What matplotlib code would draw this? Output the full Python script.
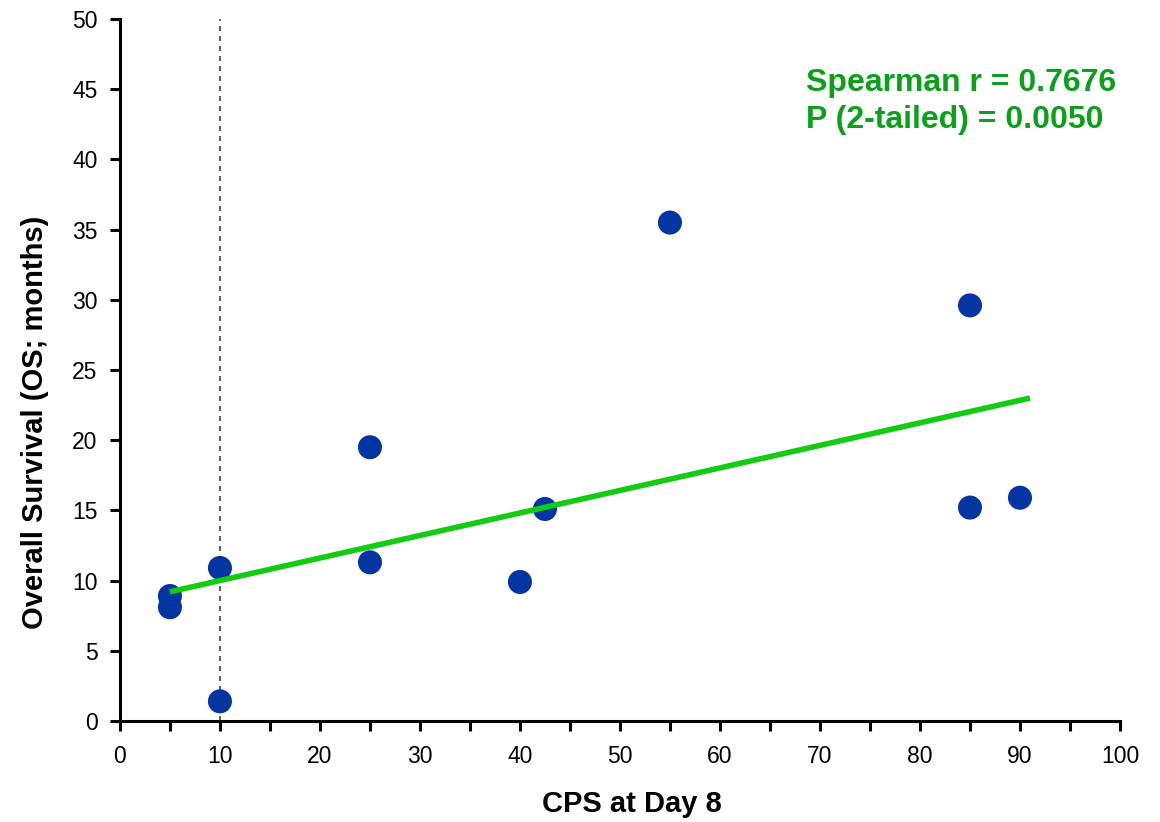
import matplotlib.pyplot as plt
import numpy as np

plt.rcParams['font.family'] = ['Liberation Sans', 'DejaVu Sans']

# CPS at Day 8 vs overall survival
cps = [5, 5, 10, 10, 25, 25, 40, 42.5, 55, 85, 85, 90]
os_months = [8.9, 8.1, 10.9, 1.4, 19.5, 11.3, 9.9, 15.1, 35.5, 29.6, 15.2, 15.9]

# trend line end points
fit_x = [5, 91]
fit_y = [9.2, 23.0]

cutoff = 10

fig = plt.figure(figsize=(11.6, 8.22), dpi=100)
ax = fig.add_axes([0.1034, 0.1229, 0.8621, 0.854])

ax.plot([cutoff, cutoff], [0, 50], color='#444444', lw=1.2, ls=(0, (3, 3)), zorder=1)
ax.scatter(cps, os_months, s=300, color='#0535A3', edgecolors='none', zorder=3)
ax.plot(fit_x, fit_y, color='#11CC11', lw=4, zorder=4, solid_capstyle='butt')

ax.set_xlim(0, 100)
ax.set_ylim(0, 50)
ax.set_xticks(np.arange(0, 101, 10))
ax.set_xticks(np.arange(0, 101, 5), minor=True)
ax.set_yticks(np.arange(0, 51, 5))

for side in ['top', 'right']:
    ax.spines[side].set_visible(False)
for side in ['left', 'bottom']:
    ax.spines[side].set_linewidth(2.2)
    ax.spines[side].set_color('black')

ax.tick_params(which='both', direction='out', length=7, width=2.2, labelsize=16.5)
ax.tick_params(axis='x', pad=10)
ax.tick_params(axis='y', pad=9)

ax.set_xlabel('CPS at Day 8', fontsize=21, fontweight='bold', va='top')
ax.xaxis.set_label_coords(0.512, -0.098)
ax.set_ylabel('Overall Survival (OS; months)', fontsize=21, fontweight='bold')
ax.yaxis.set_label_coords(-0.071, 0.426)

ax.text(0.686, 0.93, 'Spearman r = 0.7676\nP (2-tailed) = 0.0050', transform=ax.transAxes,
        fontsize=23, fontweight='bold', color='#0AA01A', va='top', ha='left', linespacing=1.32)

fig.savefig('out.png', dpi=100)
